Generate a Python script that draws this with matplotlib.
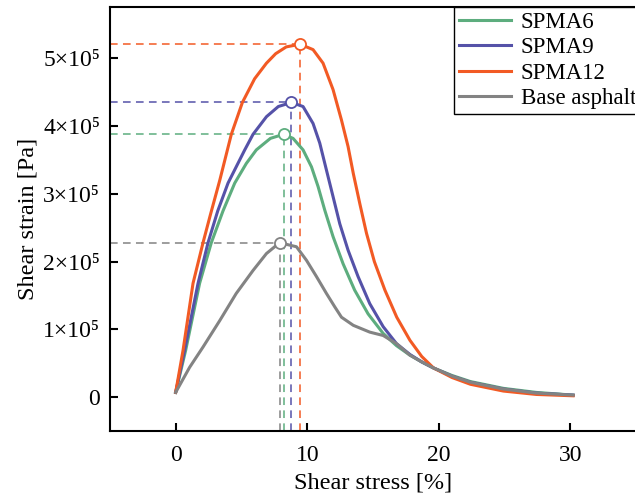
import numpy as np
import matplotlib
matplotlib.use("Agg")
import matplotlib.pyplot as plt
from matplotlib.ticker import FuncFormatter

# --- Data (shear stress [%] vs shear strain [x1e5 Pa]) ---
spma6_x = [0, 0.76, 1.82, 2.71, 3.6, 4.49, 5.37, 6.13, 7.2, 8.2, 8.92, 9.68, 10.32, 10.82,
           11.33, 11.96, 12.72, 13.6, 14.62, 15.77, 16.78, 17.8, 18.7, 19.6, 21.0, 22.4,
           24.9, 27.4, 30.2]
spma6_y = [0.07, 0.69, 1.68, 2.28, 2.75, 3.16, 3.45, 3.65, 3.82, 3.88, 3.82, 3.65, 3.4, 3.11,
           2.76, 2.37, 1.97, 1.58, 1.23, 0.94, 0.76, 0.62, 0.52, 0.43, 0.32, 0.23,
           0.13, 0.07, 0.03]

spma9_x = [0, 0.68, 1.7, 2.46, 3.2, 3.98, 5.25, 5.88, 6.9, 7.8, 8.8, 9.68, 10.44, 10.95,
           11.46, 11.96, 12.47, 13.1, 13.86, 14.75, 15.77, 16.78, 17.8, 18.7, 19.6, 21.0,
           22.4, 24.9, 27.4, 30.2]
spma9_y = [0.07, 0.69, 1.68, 2.28, 2.75, 3.16, 3.65, 3.88, 4.14, 4.29, 4.35, 4.29, 4.04, 3.75,
           3.35, 2.96, 2.56, 2.17, 1.78, 1.38, 1.04, 0.79, 0.63, 0.52, 0.43, 0.31,
           0.22, 0.12, 0.06, 0.03]

spma12_x = [0, 0.56, 1.32, 2.08, 2.65, 3.35, 4.23, 5.07, 6.0, 6.9, 7.6, 8.4, 9.45, 10.44,
            11.2, 11.96, 12.6, 13.1, 13.5, 14.0, 14.5, 15.1, 15.9, 16.8, 17.8, 18.7, 19.6,
            21.0, 22.4, 24.9, 27.4, 30.2]
spma12_y = [0.07, 0.69, 1.68, 2.28, 2.7, 3.2, 3.88, 4.35, 4.7, 4.93, 5.07, 5.17, 5.21, 5.13,
            4.93, 4.54, 4.09, 3.7, 3.3, 2.85, 2.42, 2.0, 1.58, 1.18, 0.84, 0.6, 0.43,
            0.29, 0.19, 0.09, 0.04, 0.02]

base_x = [0, 1.06, 2.08, 3.35, 4.6, 5.88, 6.9, 7.9, 9.18, 9.94, 10.7, 11.46, 12.1, 12.6,
          13.5, 14.75, 15.77, 16.78, 17.8, 18.7, 19.6, 21.0, 22.4, 24.9, 27.4, 30.2]
base_y = [0.07, 0.44, 0.74, 1.13, 1.53, 1.87, 2.12, 2.28, 2.22, 2.02, 1.78, 1.53, 1.33, 1.18,
          1.06, 0.96, 0.91, 0.79, 0.62, 0.52, 0.43, 0.31, 0.22, 0.12, 0.06, 0.03]

labels = ["SPMA6", "SPMA9", "SPMA12", "Base asphalt"]
colors = ["#5DAD7E", "#5552A8", "#F25A24", "#838383"]
peak_x = [8.2, 8.8, 9.45, 7.9]
peak_y = [3.88, 4.35, 5.21, 2.28]

SCALE = 1e5

plt.rcParams["font.family"] = ["Liberation Serif", "DejaVu Serif"]

fig = plt.figure(figsize=(6.35, 4.96), dpi=100)
ax = fig.add_axes([0.173, 0.131, 0.829, 0.855])

XMIN, XMAX = -5, 35
YMIN, YMAX = -0.5 * SCALE, 5.76 * SCALE

series = [(spma6_x, spma6_y), (spma9_x, spma9_y), (spma12_x, spma12_y), (base_x, base_y)]

# dashed guide lines to the peaks
for px, py, c in zip(peak_x, peak_y, colors):
    ax.plot([XMIN, px], [py * SCALE, py * SCALE], color=c, lw=1.1, ls=(0, (5, 3.5)), zorder=2)
    ax.plot([px, px], [YMIN, py * SCALE], color=c, lw=1.1, ls=(0, (5, 3.5)), zorder=2)

for (xs, ys), lab, c in zip(series, labels, colors):
    ax.plot(xs, np.array(ys) * SCALE, color=c, lw=2.2, label=lab, zorder=3,
            solid_joinstyle="round")

for px, py, c in zip(peak_x, peak_y, colors):
    ax.plot(px, py * SCALE, "o", ms=8, mfc="white", mec=c, mew=1.3, zorder=4)

ax.set_xlim(XMIN, XMAX)
ax.set_ylim(YMIN, YMAX)
ax.set_xticks([0, 10, 20, 30])
ax.set_yticks([0, 1e5, 2e5, 3e5, 4e5, 5e5])


def sci_fmt(v, pos):
    n = int(round(v / SCALE))
    if n == 0:
        return "0"
    return f"{n}×10\u2075"


ax.yaxis.set_major_formatter(FuncFormatter(sci_fmt))
ax.tick_params(direction="in", length=6, width=1.5, labelsize=17)
ax.tick_params(axis="y", pad=7)
ax.tick_params(axis="x", pad=10)
for s in ax.spines.values():
    s.set_linewidth(1.5)

ax.set_xlabel("Shear stress [%]", fontsize=17.5, labelpad=5)
ax.set_ylabel("Shear strain [Pa]", fontsize=17.5, labelpad=3)

leg = ax.legend(loc="upper left", bbox_to_anchor=(0.654, 1.0), fontsize=16.5, frameon=True,
                fancybox=False, edgecolor="black", framealpha=1, borderpad=0.2,
                labelspacing=0.2, handlelength=2.3, handletextpad=0.4, borderaxespad=0.0)
leg.get_frame().set_linewidth(1.0)

fig.savefig("out.png", dpi=100)
